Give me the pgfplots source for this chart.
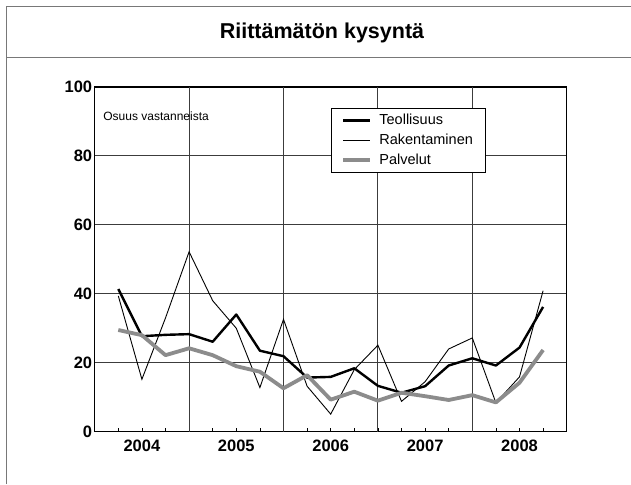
\documentclass[border=0pt]{standalone}
\usepackage{pgfplots}
\pgfplotsset{compat=1.18}
\usepackage{fontspec}
\setmainfont{Liberation Sans}
\definecolor{gridc}{RGB}{60,60,60}
\definecolor{palv}{RGB}{140,140,140}
\definecolor{framec}{RGB}{120,120,120}
\begin{document}
\begin{tikzpicture}[x=1pt,y=1pt]
\useasboundingbox (0,0) rectangle (631,484);
\fill[white] (0,0) rectangle (631,484);
\draw[framec,line width=1.6pt] (6.3,0) -- (6.3,477.3) -- (631,477.3);
\draw[framec,line width=1.6pt] (6.3,426.3) -- (631,426.3);
\node[anchor=base,font=\bfseries\fontsize{21.5}{22}\selectfont] at (322,445.7) {Riittämätön kysyntä};
\begin{axis}[
  at={(94.7pt,52.3pt)}, anchor=south west,
  scale only axis, width=472pt, height=344.7pt,
  xmin=-1, xmax=19, ymin=0, ymax=100,
  axis line style={line width=1.3pt},
  xtick={1,5,9,13,17},
  xticklabels={2004,2005,2006,2007,2008},
  minor xtick={0,1,...,18},
  extra x ticks={3,7,11,15},
  extra x tick labels={},
  extra x tick style={grid=major, major tick length=0pt},
  xtick pos=bottom, tick align=inside,
  major x tick style={draw=none},
  minor tick length=4pt,
  minor tick style={line width=0.8pt, black},
  ytick={0,20,40,60,80,100},
  ymajorgrids, ytick style={draw=none},
  major grid style={gridc, line width=1pt},
  ticklabel style={font=\bfseries\fontsize{16.5}{16.5}\selectfont},
  /pgf/number format/assume math mode=true,
  xticklabel style={yshift=-5pt},
  yticklabel style={xshift=1pt},
  legend style={at={(rel axis cs:0.5,0.94)}, anchor=north west,
    draw=black, line width=0.8pt, font=\fontsize{14.5}{14.5}\selectfont,
    inner xsep=10pt, inner ysep=3pt, row sep=1.5pt,
    nodes={inner sep=2.5pt, text height=10.5pt, text depth=3pt}},
  legend cell align=left,
  legend image code/.code={\draw[#1] (0pt,0pt) -- (27pt,0pt); \path (32pt,0pt);},
]
\addplot[black, line width=2.4pt, line join=round] coordinates {
(0,41.4) (1,27.7) (2,28.1) (3,28.3) (4,26.1) (5,34.0) (6,23.5) (7,21.9) (8,15.7) (9,15.9)
(10,18.4) (11,13.3) (12,11.3) (13,13.2) (14,19.2) (15,21.3) (16,19.2) (17,24.4) (18,36.2)};
\addlegendentry{Teollisuus}
\addplot[black, line width=0.9pt] coordinates {
(0,39.4) (1,15.2) (2,33.0) (3,52.2) (4,38.0) (5,30.0) (6,12.8) (7,32.6) (8,13.2) (9,5.1)
(10,18.0) (11,25.1) (12,8.8) (13,14.5) (14,24.0) (15,27.2) (16,8.4) (17,15.9) (18,40.9)};
\addlegendentry{Rakentaminen}
\addplot[palv, line width=3.8pt, line join=round] coordinates {
(0,29.5) (1,28.0) (2,22.2) (3,24.2) (4,22.2) (5,19.0) (6,17.4) (7,12.6) (8,16.4) (9,9.3)
(10,11.6) (11,9.0) (12,11.3) (13,10.3) (14,9.2) (15,10.6) (16,8.5) (17,14.2) (18,23.7)};
\addlegendentry{Palvelut}
\node[anchor=west, font=\fontsize{12}{12}\selectfont, inner sep=0pt] at (rel axis cs:0.018,0.914) {Osuus vastanneista};
\end{axis}
\end{tikzpicture}
\end{document}
